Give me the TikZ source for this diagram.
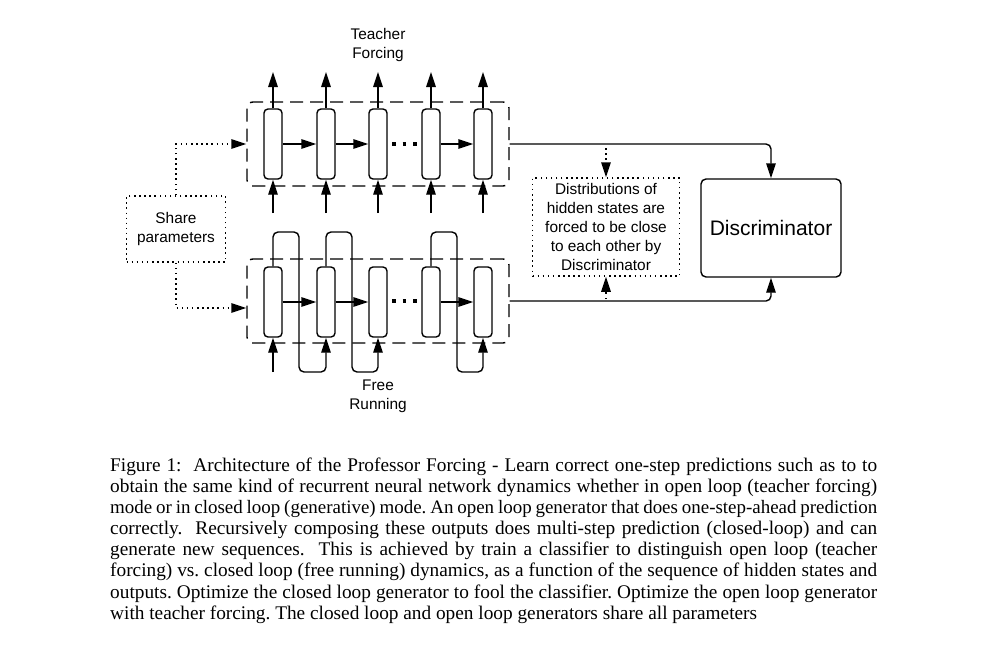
\documentclass[tikz,border=0pt]{standalone}
\usepackage{fontspec}
\setmainfont{Liberation Serif}
\setsansfont{Liberation Sans}
\usetikzlibrary{arrows.meta}
\newcommand{\capfont}{\rmfamily\fontsize{19.3}{21.1}\selectfont\frenchspacing}
\newcommand{\capnarrow}{\fontsize{18.95}{21.1}\selectfont}
\begin{document}
\begin{tikzpicture}[x=1pt,y=-1pt,
  lw/.style={line width=1.4pt},
  cell/.style={draw, lw, rounded corners=4pt, minimum width=18pt, minimum height=70pt, inner sep=0pt},
  arr/.style={lw, -{Triangle[length=15pt,width=9.5pt]}},
  dashbox/.style={draw, lw, dash pattern=on 13pt off 7pt, rounded corners=6pt, minimum width=262pt, minimum height=84pt, inner sep=0pt},
  dotline/.style={line width=1.5pt, dash pattern=on 1.5pt off 3.6pt},
  dotarr/.style={dotline, -{Triangle[length=15pt,width=9.5pt]}},
  dotbox/.style={draw, dotline, inner sep=0pt, align=center},
  lbl/.style={font=\sffamily\fontsize{15.4}{19}\selectfont, align=center},
  dots/.style={line width=3.5pt, dash pattern=on 3.5pt off 7pt}
]
\useasboundingbox (0,0) rectangle (1000,653);

% ---------- top (teacher forcing) ----------
\node[dashbox] (tbox) at (378,144) {};
\foreach \i/\x in {1/273,2/326,3/378,4/431,5/483}{
  \node[cell, fill=white] (t\i) at (\x,144) {};
  \coordinate (to\i) at (\x,72);
  \coordinate (ti\i) at (\x,213);
  \draw[arr] (t\i.north) -- (to\i);
  \draw[arr] (ti\i) -- (t\i.south);
}
\draw[arr] (t1.east) -- (t2.west);
\draw[arr] (t2.east) -- (t3.west);
\draw[arr] (t4.east) -- (t5.west);
\draw[dots] (392,144) -- (420,144);
\node[lbl] (tf) at (378,45) {Teacher\\Forcing};

% ---------- bottom (free running) ----------
\node[dashbox] (bbox) at (378,301) {};
\foreach \i/\x in {1/273,2/326,3/378,4/431,5/483}{
  \node[cell] (b\i) at (\x,302) {};
}
\coordinate (bi1) at (273,372);
\draw[arr] (bi1) -- (b1.south);
\draw[arr, rounded corners=5pt] (b1.north) -- (273,232) -- (299,232) -- (299,372) -- (326,372) -- (b2.south);
\draw[arr, rounded corners=5pt] (b2.north) -- (326,232) -- (352,232) -- (352,372) -- (378,372) -- (b3.south);
\draw[arr, rounded corners=5pt] (b4.north) -- (431,232) -- (457,232) -- (457,372) -- (483,372) -- (b5.south);
\draw[arr] (b1.east) -- (b2.west);
\draw[arr] (b2.east) -- (b3.west);
\draw[arr] (b4.east) -- (b5.west);
\draw[dots] (392,301) -- (420,301);
\node[lbl] (fr) at (378,396) {Free\\Running};

% ---------- share parameters ----------
\node[dotbox, lbl, minimum width=99pt, minimum height=66pt] (share) at (176,229) {Share\\parameters};
\draw[dotarr] (share.north) |- (tbox.west);
\coordinate (bin) at ([yshift=-7pt]bbox.west);
\draw[dotarr] (share.south) |- (bin);

% ---------- discriminator ----------
\node[draw, lw, rounded corners=5pt, minimum width=140pt, minimum height=98pt,
      font=\sffamily\fontsize{21}{25}\selectfont] (disc) at (771,228) {Discriminator};
\draw[arr, rounded corners=5pt] (tbox.east) -| (disc.north);
\draw[arr, rounded corners=5pt] (bbox.east) -| (disc.south);

% ---------- distributions ----------
\node[dotbox, lbl, minimum width=147pt, minimum height=98pt] (dist) at (606,227)
  {\fontsize{15.4}{18.6}\selectfont Distributions of\\hidden states are\\forced to be close\\to each other by\\Discriminator};
\coordinate (dt) at (606,148);
\coordinate (db) at (606,299);
\draw[dotarr] (dt) -- (dist.north);
\draw[dotarr] (db) -- (dist.south);

% ---------- caption ----------
\node[anchor=north west, inner sep=0pt, align=left, font=\capfont] (cap) at (110,457.7) {%
\makebox[767pt][s]{Figure 1:\ \ Architecture of the Professor Forcing - Learn correct one-step predictions such as to to}\\
\makebox[767pt][s]{obtain the same kind of recurrent neural network dynamics whether in open loop (teacher forcing)}\\
\makebox[767pt][s]{\capnarrow mode or in closed loop (generative) mode. An open loop generator that does one-step-ahead prediction}\\
\makebox[767pt][s]{correctly.\ \ Recursively composing these outputs does multi-step prediction (closed-loop) and can}\\
\makebox[767pt][s]{generate new sequences.\ \ This is achieved by train a classifier to distinguish open loop (teacher}\\
\makebox[767pt][s]{forcing) vs. closed loop (free running) dynamics, as a function of the sequence of hidden states and}\\
\makebox[767pt][s]{outputs. Optimize the closed loop generator to fool the classifier. Optimize the open loop generator}\\
with teacher forcing. The closed loop and open loop generators share all parameters};
\end{tikzpicture}
\end{document}
